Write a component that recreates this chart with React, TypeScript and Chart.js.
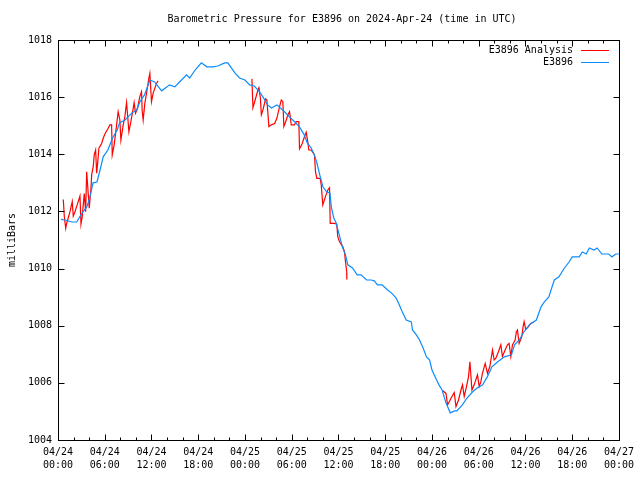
import React, { useEffect, useRef } from 'react';
import { Chart, registerables } from 'chart.js';

Chart.register(...registerables);

const FONT = '"DejaVu Sans Mono", "Liberation Mono", monospace';

const titleText = 'Barometric Pressure for E3896 on 2024-Apr-24 (time in UTC)';
const yAxisTitle = 'milliBars';
const seriesNames = ['E3896 Analysis', 'E3896'];
const seriesColors = ['#ff0000', '#0a8cff'];

const tickDates = ['04/24', '04/24', '04/24', '04/24', '04/25', '04/25', '04/25', '04/25', '04/26', '04/26', '04/26', '04/26', '04/27'];
const tickTimes = ['00:00', '06:00', '12:00', '18:00', '00:00', '06:00', '12:00', '18:00', '00:00', '06:00', '12:00', '18:00', '00:00'];

// Hours since 2024-04-24 00:00 UTC
const stationHours = [
  0.38, 0.9, 1.8, 2.4, 3.1, 3.7, 4.1, 4.5, 5.0, 5.4, 5.8, 6.4, 7.0, 7.6, 7.9, 8.6, 9.5, 10.1, 10.5, 11.1,
  11.8, 12.4, 13.3, 14.0, 14.3, 15.0, 15.6, 16.5, 16.9, 17.6, 18.4, 19.1, 19.9, 20.5, 21.4, 21.8, 22.7, 23.3, 24.0, 24.6,
  25.2, 25.9, 26.3, 26.9, 27.4, 28.1, 28.4, 29.1, 29.7, 30.4, 31.0, 31.6, 32.0, 32.5, 32.9, 33.2, 33.6, 34.0, 34.5, 34.9,
  35.1, 35.4, 35.7, 36.1, 36.5, 36.9, 37.2, 37.8, 38.4, 38.9, 39.6, 40.2, 40.6, 41.0, 41.6, 42.3, 42.8, 43.4, 43.8, 44.2,
  44.7, 45.35, 45.5, 46.0, 46.4, 46.8, 47.3, 47.7, 48.0, 48.6, 48.9, 49.3, 49.8, 50.35, 50.9, 51.2, 51.9, 52.5, 53.2, 53.8,
  54.5, 55.1, 55.7, 56.4, 57.3, 58.2, 58.6, 59.2, 59.8, 60.5, 61.4, 62.0, 62.4, 63.0, 63.7, 64.3, 65.0, 65.6, 66.0, 66.9,
  67.3, 67.8, 68.2, 68.8, 69.2, 69.8, 70.7, 71.1, 71.6, 72.0,
];
const stationPressure = [
  1011.72, 1011.70, 1011.63, 1011.63, 1011.95, 1012.16, 1012.51, 1013.00, 1013.03, 1013.45, 1013.91, 1014.15, 1014.57, 1014.85, 1015.10, 1015.20, 1015.45, 1015.55, 1015.83, 1016.08,
  1016.60, 1016.53, 1016.22, 1016.36, 1016.43, 1016.36, 1016.53, 1016.78, 1016.67, 1016.95, 1017.20, 1017.06, 1017.06, 1017.09, 1017.20, 1017.20, 1016.85, 1016.67, 1016.60, 1016.43,
  1016.39, 1016.18, 1016.01, 1015.73, 1015.62, 1015.73, 1015.66, 1015.48, 1015.31, 1015.13, 1014.96, 1014.68, 1014.40, 1014.22, 1013.98, 1013.73, 1013.28, 1012.86, 1012.68, 1012.65,
  1012.12, 1011.77, 1011.60, 1011.18, 1010.76, 1010.48, 1010.13, 1010.02, 1009.78, 1009.78, 1009.60, 1009.60, 1009.57, 1009.43, 1009.43, 1009.25, 1009.15, 1008.97, 1008.73, 1008.48,
  1008.20, 1008.13, 1007.85, 1007.68, 1007.50, 1007.26, 1006.91, 1006.80, 1006.45, 1006.10, 1005.93, 1005.75, 1005.30, 1004.95, 1005.02, 1005.02, 1005.23, 1005.47, 1005.68, 1005.82,
  1005.93, 1006.21, 1006.56, 1006.73, 1006.91, 1006.98, 1007.33, 1007.50, 1007.78, 1008.03, 1008.20, 1008.66, 1008.83, 1009.01, 1009.60, 1009.71, 1010.02, 1010.23, 1010.41, 1010.41,
  1010.58, 1010.51, 1010.72, 1010.65, 1010.72, 1010.51, 1010.51, 1010.41, 1010.51, 1010.51,
];

// null marks a gap between analysis runs
const analysisHours = [
  0.68, 0.81, 0.99, 1.11, 1.24, 1.54, 1.83, 1.96, 2.18, 2.52, 2.82, 2.95, 3.11, 3.37, 3.55, 3.68, 3.88, 4.01, 4.23, 4.32,
  4.52, 4.65, 4.83, 4.96, 5.09, 5.25, 5.60, 5.80, 6.02, 6.44, 6.66, 6.88, 6.96, 7.21, 7.52, 7.72, 7.94, 8.07, 8.37, 8.58,
  8.80, 8.93, 9.10, 9.35, 9.65, 9.77, 9.95, 10.21, 10.50, 10.72, 10.80, 10.93, 11.15, 11.36, 11.66, 11.79, 12.00, 12.21, 12.64, 12.85,
  18.0,
  24.89, 25.02, 25.37, 25.66, 25.79, 25.97, 26.10, 26.30, 26.65, 26.81, 27.07, 27.38, 27.80, 28.09, 28.44, 28.66, 28.86, 28.99, 29.30, 29.50,
  29.72, 29.94, 30.36, 30.58, 30.91, 31.00, 31.35, 31.64, 31.86, 32.07, 32.19, 32.50, 32.71, 32.92, 33.05, 33.22, 33.65, 33.78, 33.99, 34.33,
  34.63, 34.85, 34.94, 35.49, 35.78, 35.91, 36.13, 36.55, 36.77, 36.90, 37.06, 37.07,
  43.0,
  49.36, 49.80, 50.00, 50.22, 50.56, 50.86, 51.08, 51.41, 51.72, 51.92, 52.14, 52.43, 52.69, 52.87, 53.13, 53.42, 53.84, 54.06, 54.28, 54.48,
  54.83, 55.12, 55.43, 55.77, 55.98, 56.20, 56.53, 56.84, 57.04, 57.39, 57.69, 57.90, 58.12, 58.33, 58.67, 58.84, 58.97, 59.19, 59.53, 59.70,
  59.83, 60.04, 60.38, 60.68, 61.11,
];
const analysisPressure = [
  1012.42, 1011.82, 1011.41, 1011.58, 1011.70, 1011.99, 1012.34, 1011.84, 1011.99, 1012.28, 1012.54, 1011.56, 1011.82, 1012.63, 1011.99, 1013.39, 1012.63, 1012.11, 1012.81, 1013.28,
  1013.57, 1013.98, 1014.15, 1013.34, 1013.69, 1014.21, 1014.38, 1014.56, 1014.71, 1014.91, 1015.03, 1015.03, 1013.98, 1014.33, 1015.03, 1015.49, 1015.20, 1014.50, 1015.03, 1015.32,
  1015.81, 1015.38, 1014.79, 1015.14, 1015.61, 1015.81, 1015.44, 1015.61, 1016.02, 1016.19, 1015.55, 1015.20, 1015.79, 1016.13, 1016.66, 1016.83, 1015.84, 1016.13, 1016.48, 1016.57,
  null,
  1016.64, 1015.63, 1015.96, 1016.25, 1016.33, 1015.98, 1015.38, 1015.55, 1015.94, 1015.90, 1014.97, 1015.03, 1015.08, 1015.26, 1015.67, 1015.90, 1015.84, 1014.97, 1015.20, 1015.38,
  1015.49, 1015.03, 1015.03, 1015.14, 1015.14, 1014.19, 1014.38, 1014.62, 1014.77, 1014.42, 1014.15, 1014.15, 1014.07, 1013.98, 1013.39, 1013.16, 1013.16, 1012.95, 1012.23, 1012.52,
  1012.75, 1012.83, 1011.58, 1011.58, 1011.55, 1011.12, 1010.94, 1010.77, 1010.59, 1010.24, 1009.89, 1009.62,
  null,
  1005.73, 1005.63, 1005.23, 1005.34, 1005.52, 1005.66, 1005.17, 1005.40, 1005.75, 1005.93, 1005.52, 1005.87, 1006.22, 1006.74, 1005.75, 1005.93, 1006.28, 1005.87, 1006.04, 1006.33,
  1006.68, 1006.33, 1006.57, 1007.15, 1006.80, 1006.86, 1007.09, 1007.33, 1006.92, 1007.15, 1007.33, 1007.38, 1006.92, 1007.33, 1007.50, 1007.79, 1007.85, 1007.38, 1007.62, 1007.97,
  1008.14, 1007.87, 1007.97, 1008.08, 1008.14,
];

const X_MIN = 0;
const X_MAX = 72;
const Y_MIN = 1004;
const Y_MAX = 1018;

const framePlugin = {
  id: 'gnuplotFrame',
  afterDraw(chart: any) {
    const { ctx, chartArea, scales } = chart;
    const left = Math.round(chartArea.left);
    const right = Math.round(chartArea.right);
    const top = Math.round(chartArea.top);
    const bottom = Math.round(chartArea.bottom);
    const xs = scales.x;
    const ys = scales.y;
    ctx.save();
    ctx.strokeStyle = '#000';
    ctx.lineWidth = 1;
    ctx.strokeRect(left + 0.5, top + 0.5, right - left, bottom - top);
    ctx.beginPath();
    for (let h = X_MIN; h <= X_MAX; h += 2) {
      const px = Math.round(xs.getPixelForValue(h)) + 0.5;
      const len = h % 6 === 0 ? 6 : 3;
      ctx.moveTo(px, bottom + 0.5);
      ctx.lineTo(px, bottom + 0.5 - len);
      ctx.moveTo(px, top + 0.5);
      ctx.lineTo(px, top + 0.5 + len);
    }
    for (let v = Y_MIN; v <= Y_MAX; v += 2) {
      const py = Math.round(ys.getPixelForValue(v)) + 0.5;
      ctx.moveTo(left + 0.5, py);
      ctx.lineTo(left + 0.5 + 6, py);
      ctx.moveTo(right + 0.5, py);
      ctx.lineTo(right + 0.5 - 6, py);
    }
    ctx.stroke();

    ctx.fillStyle = '#000';
    ctx.font = `10px ${FONT}`;
    // title
    ctx.textAlign = 'center';
    ctx.textBaseline = 'middle';
    ctx.fillText(titleText, 342, 19);
    // y axis title
    ctx.save();
    ctx.translate(12, (top + bottom) / 2);
    ctx.rotate(-Math.PI / 2);
    ctx.fillText(yAxisTitle, 0, 0);
    ctx.restore();
    // legend
    ctx.textAlign = 'right';
    const rows = [50, 62];
    seriesNames.forEach((name, i) => {
      const ry = rows[i];
      ctx.fillStyle = '#000';
      ctx.fillText(name, 573, ry);
      ctx.strokeStyle = seriesColors[i];
      ctx.beginPath();
      ctx.moveTo(581, ry + 0.5);
      ctx.lineTo(609, ry + 0.5);
      ctx.stroke();
    });
    ctx.restore();
  },
};

export default function App() {
  const canvasRef = useRef<HTMLCanvasElement | null>(null);

  useEffect(() => {
    const canvas = canvasRef.current;
    if (!canvas) return;
    const analysisData = analysisHours.map((h, i) => ({ x: h, y: analysisPressure[i] }));
    const stationData = stationHours.map((h, i) => ({ x: h, y: stationPressure[i] }));
    const chart = new Chart(canvas, {
      type: 'line',
      data: {
        datasets: [
          {
            label: seriesNames[0],
            data: analysisData as any,
            borderColor: seriesColors[0],
            backgroundColor: seriesColors[0],
            borderWidth: 1.2,
            pointRadius: 0,
            tension: 0,
            spanGaps: false,
            order: 1,
          },
          {
            label: seriesNames[1],
            data: stationData as any,
            borderColor: seriesColors[1],
            backgroundColor: seriesColors[1],
            borderWidth: 1.2,
            pointRadius: 0,
            tension: 0,
            order: 0,
          },
        ],
      },
      options: {
        animation: false,
        responsive: false,
        devicePixelRatio: 1,
        layout: { padding: { top: 40, right: 19, bottom: 0, left: 0 } },
        plugins: {
          legend: { display: false },
          title: { display: false },
          tooltip: { enabled: false },
        },
        scales: {
          x: {
            type: 'linear',
            min: X_MIN,
            max: X_MAX,
            grid: { display: false, drawTicks: false, tickLength: 0 },
            border: { display: false },
            ticks: {
              stepSize: 6,
              autoSkip: false,
              maxRotation: 0,
              minRotation: 0,
              padding: 6,
              color: '#000',
              font: { family: FONT, size: 10, lineHeight: 1.3 },
              callback: (v: any) => {
                const i = Math.round(Number(v) / 6);
                return [tickDates[i], tickTimes[i]];
              },
            },
            afterFit: (s: any) => {
              s.height = 40;
            },
          },
          y: {
            type: 'linear',
            min: Y_MIN,
            max: Y_MAX,
            grid: { display: false, drawTicks: false, tickLength: 0 },
            border: { display: false },
            ticks: {
              stepSize: 2,
              padding: 6,
              color: '#000',
              font: { family: FONT, size: 10 },
              callback: (v: any) => String(v),
            },
            afterFit: (s: any) => {
              s.width = 58;
            },
          },
        },
      },
      plugins: [framePlugin],
    });
    return () => chart.destroy();
  }, []);

  return (
    <div style={{ position: 'fixed', left: 0, top: 0, width: 640, height: 480, background: '#fff' }}>
      <canvas ref={canvasRef} width={640} height={480} style={{ display: 'block' }} />
    </div>
  );
}
